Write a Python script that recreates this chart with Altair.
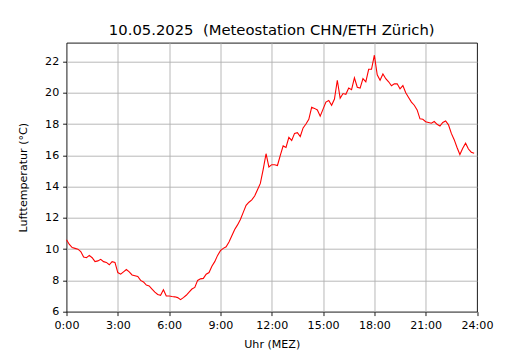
import altair as alt
import pandas as pd

temps = [
    10.6, 10.3, 10.1, 10.05, 10.0, 9.85,
    9.5, 9.45, 9.6, 9.45, 9.2, 9.25,
    9.35, 9.2, 9.15, 9.0, 9.2, 9.15,
    8.5, 8.4, 8.55, 8.7, 8.55, 8.35,
    8.3, 8.25, 8.0, 7.9, 7.7, 7.65,
    7.45, 7.25, 7.1, 7.05, 7.4, 7.0,
    7.0, 6.97, 6.95, 6.9, 6.77, 6.9,
    7.05, 7.25, 7.45, 7.55, 8.0, 8.1,
    8.13, 8.4, 8.5, 8.9, 9.2, 9.6,
    9.9, 10.05, 10.15, 10.45, 10.85, 11.25,
    11.55, 11.9, 12.35, 12.8, 13.0, 13.15,
    13.4, 13.8, 14.2, 15.1, 16.1, 15.25,
    15.4, 15.4, 15.35, 16.0, 16.6, 16.5,
    17.15, 16.95, 17.4, 17.45, 17.2, 17.75,
    18.0, 18.3, 19.07, 19.0, 18.9, 18.5,
    18.95, 19.4, 19.5, 19.2, 19.6, 20.8,
    19.65, 19.95, 19.9, 20.3, 20.2, 20.95,
    20.35, 20.3, 20.9, 20.7, 21.5, 21.5,
    22.4, 21.15, 20.8, 21.2, 20.9, 20.7,
    20.45, 20.57, 20.57, 20.25, 20.46, 20.0,
    19.7, 19.4, 19.2, 18.9, 18.33, 18.3,
    18.15, 18.1, 18.05, 18.16, 17.98, 17.87,
    18.1, 18.2, 17.95, 17.4, 17.0, 16.5,
    16.05, 16.45, 16.77, 16.4, 16.2, 16.13,
]
hours = [i / 6 for i in range(len(temps))]
x_ticks = [0, 3, 6, 9, 12, 15, 18, 21, 24]
y_ticks = [6, 8, 10, 12, 14, 16, 18, 20, 22]

df = pd.DataFrame({"h": hours, "t": temps})

FONT = "DejaVu Sans"

chart = alt.Chart(df).mark_line(color="red", strokeWidth=1.1).encode(
    x=alt.X(
        "h:Q",
        scale=alt.Scale(domain=[0, 24], nice=False, zero=False),
        axis=alt.Axis(
            values=x_ticks,
            labelExpr="datum.value + ':00'",
            labelFlush=False,
            labelOverlap=False,
            title="Uhr (MEZ)",
            titlePadding=8,
            gridOpacity=alt.condition("datum.value == 0 || datum.value == 24", alt.value(0), alt.value(1)),
        ),
    ),
    y=alt.Y(
        "t:Q",
        scale=alt.Scale(domain=[6.0, 23.2], nice=False, zero=False),
        axis=alt.Axis(
            values=y_ticks,
            labelFlush=False,
            labelOverlap=False,
            title="Lufttemperatur (°C)",
            titlePadding=16,
            gridOpacity=alt.condition("datum.value == 6", alt.value(0), alt.value(1)),
        ),
    ),
).properties(
    width=410.5,
    height=269,
    background="white",
    autosize=alt.AutoSizeParams(type="none"),
    padding={"left": 58.5, "top": 34.7, "right": 40, "bottom": 38},
    title=alt.TitleParams(
        "10.05.2025\u00a0 (Meteostation CHN/ETH Zürich)",
        font=FONT,
        fontSize=14.8,
        fontWeight="normal",
        color="black",
        anchor="middle",
        frame="group",
        baseline="alphabetic",
        offset=-7,
    ),
).configure_view(
    stroke="black", strokeWidth=0.9
).configure_axis(
    domain=False,
    grid=True,
    gridColor="#b0b0b0",
    gridWidth=0.9,
    ticks=True,
    tickColor="black",
    tickSize=3.9,
    tickWidth=0.9,
    labelPadding=3.9,
    labelFont=FONT,
    labelFontSize=11.1,
    labelColor="black",
    titleFont=FONT,
    titleFontSize=11.1,
    titleFontWeight="normal",
    titleColor="black",
)

chart.save("out.html", embed_options={"renderer": "svg", "actions": False})
